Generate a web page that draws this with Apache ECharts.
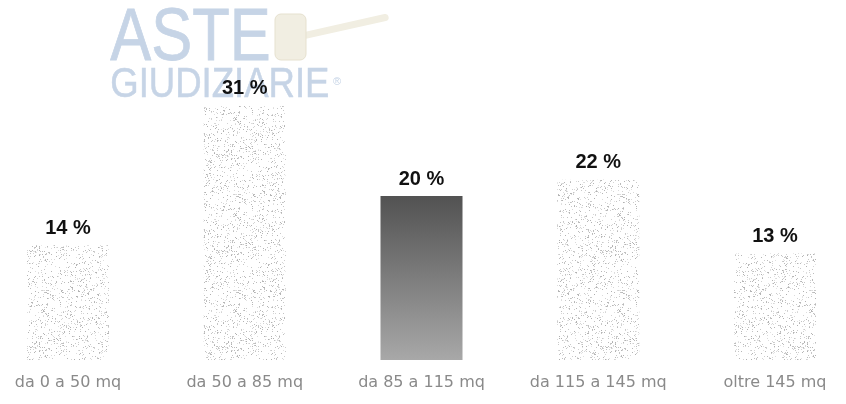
<!DOCTYPE html>
<html>
<head>
<meta charset="utf-8">
<script src="https://cdn.jsdelivr.net/npm/echarts@6/dist/echarts.min.js"></script>
<style>
html,body{margin:0;padding:0;background:#fff;}
#chart{width:846px;height:404px;}
</style>
</head>
<body>
<div id="chart"></div>
<script>
const categories = ['da 0 a 50 mq', 'da 50 a 85 mq', 'da 85 a 115 mq', 'da 115 a 145 mq', 'oltre 145 mq'];
const values = [14, 31, 20, 22, 13];
const highlightIndex = 2;

function stipple(size, density, seed) {
  const c = document.createElement('canvas');
  c.width = size; c.height = size;
  const ctx = c.getContext('2d');
  ctx.fillStyle = '#ffffff';
  ctx.fillRect(0, 0, size, size);
  let s = seed;
  function rnd() { s = (s * 1103515245 + 12345) % 2147483648; return s / 2147483648; }
  for (let y = 0; y < size; y++) {
    for (let x = 0; x < size; x++) {
      if (rnd() < density) {
        const g = Math.floor(175 + rnd() * 55);
        ctx.fillStyle = 'rgb(' + g + ',' + g + ',' + g + ')';
        ctx.fillRect(x, y, 1, 1);
      }
    }
  }
  return c;
}
const lightPattern = { image: stipple(96, 0.11, 7), repeat: 'repeat' };
const darkGradient = {
  type: 'linear', x: 0, y: 0, x2: 0, y2: 1,
  colorStops: [{ offset: 0, color: '#525252' }, { offset: 1, color: '#a8a8a8' }]
};

const chart = echarts.init(document.getElementById('chart'));
chart.setOption({
  animation: false,
  backgroundColor: '#ffffff',
  grid: { left: 68, right: 71, top: 65, bottom: 44 },
  xAxis: {
    type: 'category',
    data: categories,
    boundaryGap: false,
    axisLine: { show: false },
    axisTick: { show: false },
    axisLabel: { interval: 0, hideOverlap: false, color: '#8a8a8a', fontSize: 16, fontFamily: 'DejaVu Sans, sans-serif', margin: 15 }
  },
  yAxis: {
    type: 'value', min: 0, max: 36,
    show: false, splitLine: { show: false }
  },
  graphic: [
    { type: 'text', left: 110, top: 2, z: -10, scaleX: 0.83,
      style: { text: 'ASTE', fontSize: 74, fontFamily: 'Liberation Sans, Arial, sans-serif', fill: '#c6d4e6', stroke: '#c6d4e6', lineWidth: 0.8 } },
    { type: 'text', left: 110, top: 64, z: -10, scaleX: 0.87,
      style: { text: 'GIUDIZIARIE', fontSize: 42, fontFamily: 'Liberation Sans, Arial, sans-serif', fill: '#c6d4e6', stroke: '#c6d4e6', lineWidth: 0.5 } },
    { type: 'text', left: 333, top: 76, z: -10,
      style: { text: '®', fontSize: 11, fontFamily: 'Liberation Sans, Arial, sans-serif', fill: '#c6d4e6' } },
    { type: 'rect', z: -10, shape: { x: 0, y: 0, width: 90, height: 7, r: 3.5 }, x: 300, y: 33, rotation: 0.22,
      style: { fill: '#f1eee2' } },
    { type: 'rect', z: -9, shape: { x: 275, y: 14, width: 31, height: 46, r: 6 },
      style: { fill: '#f1eee2', stroke: '#e6e1cf', lineWidth: 1 } }
  ],
  series: [{
    type: 'bar',
    barWidth: 82,
    data: values.map((v, i) => ({
      value: v,
      itemStyle: { color: i === highlightIndex ? darkGradient : lightPattern }
    })),
    label: {
      show: true, position: 'top', distance: 7,
      formatter: p => p.value + ' %',
      color: '#111111', fontSize: 20, fontWeight: 'bold',
      fontFamily: 'Liberation Sans, Arial, sans-serif'
    }
  }]
});
</script>
</body>
</html>
